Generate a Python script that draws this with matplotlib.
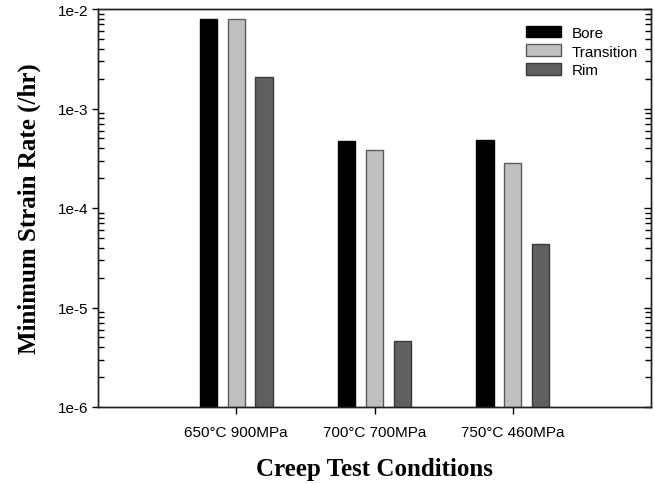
import numpy as np
import matplotlib
matplotlib.use("Agg")
import matplotlib.pyplot as plt
from matplotlib.ticker import LogLocator, FuncFormatter, NullFormatter

# Creep test conditions and minimum strain rates (/hr)
conditions = ["650°C 900MPa", "700°C 700MPa", "750°C 460MPa"]
series_names = ["Bore", "Transition", "Rim"]
bore = [7.9e-3, 4.75e-4, 4.85e-4]
transition = [7.9e-3, 3.8e-4, 2.85e-4]
rim = [2.07e-3, 4.6e-6, 4.3e-5]

fills = ["#000000", "#c0c0c0", "#606060"]
edges = ["#000000", "#5a5a5a", "#3a3a3a"]

plt.rcParams["font.family"] = ["Liberation Sans", "DejaVu Sans"]

fig = plt.figure(figsize=(6.55, 4.85), dpi=100)
ax = fig.add_axes([98 / 655, 77 / 485, 553 / 655, 398 / 485])

x = np.arange(1, len(conditions) + 1)
offset = 0.2
width = 0.125
for i, (vals, name) in enumerate(zip([bore, transition, rim], series_names)):
    ax.bar(x + (i - 1) * offset, vals, width=width,
           color=fills[i], edgecolor=edges[i], linewidth=1.0, label=name)

ax.set_yscale("log")
ax.set_ylim(1e-6, 1e-2)
ax.set_xlim(0, 4)
ax.set_xticks(x)
ax.set_xticklabels(conditions, fontsize=11)

ax.yaxis.set_major_locator(LogLocator(base=10, numticks=10))
ax.yaxis.set_minor_locator(LogLocator(base=10, subs=np.arange(2, 10), numticks=100))
ax.yaxis.set_major_formatter(FuncFormatter(lambda v, p: f"1e{int(round(np.log10(v)))}"))
ax.yaxis.set_minor_formatter(NullFormatter())

ax.tick_params(axis="y", which="major", direction="out", length=4, width=1,
               labelsize=11, right=False, pad=3)
ax.tick_params(axis="y", which="minor", direction="in", length=4, width=1, right=False)
ax.tick_params(axis="x", which="major", direction="out", length=5, width=1,
               top=False, pad=8)

# Right-hand axis carrying inward ticks only
ax2 = ax.twinx()
ax2.set_yscale("log")
ax2.set_ylim(1e-6, 1e-2)
ax2.yaxis.set_major_locator(LogLocator(base=10, numticks=10))
ax2.yaxis.set_minor_locator(LogLocator(base=10, subs=np.arange(2, 10), numticks=100))
ax2.yaxis.set_major_formatter(NullFormatter())
ax2.yaxis.set_minor_formatter(NullFormatter())
ax2.tick_params(axis="y", which="major", direction="in", length=5, width=1)
ax2.tick_params(axis="y", which="minor", direction="in", length=4, width=1)

for a in (ax, ax2):
    for s in a.spines.values():
        s.set_linewidth(1.0)
        s.set_color("#202020")

serif_bold = dict(family=["Liberation Serif", "DejaVu Serif"], fontweight="bold", fontsize=18)
ax.set_ylabel("Minimum Strain Rate (/hr)", labelpad=12, **serif_bold)
ax.set_xlabel("Creep Test Conditions", labelpad=13, **serif_bold)

ax.legend(loc="upper right", bbox_to_anchor=(0.996, 0.985), frameon=False,
          fontsize=11, handlelength=2.3, handleheight=0.8,
          labelspacing=0.3, handletextpad=0.7, borderaxespad=0.3)

fig.savefig("out.png", dpi=100)
